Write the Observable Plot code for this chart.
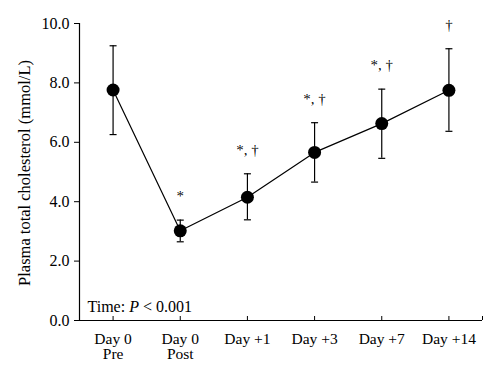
<!DOCTYPE html>
<html><head><meta charset="utf-8">
<script src="https://cdn.jsdelivr.net/npm/d3@7"></script>
<script src="https://cdn.jsdelivr.net/npm/@observablehq/plot@0.6"></script>
<style>body{margin:0;background:#fff} svg text{-webkit-font-smoothing:antialiased}</style>
</head><body><div id="chart"></div>
<script>
const categories = ["Day 0\nPre", "Day 0\nPost", "Day +1", "Day +3", "Day +7", "Day +14"];
const means = [7.76, 3.02, 4.15, 5.66, 6.63, 7.75];
const upper = [9.25, 3.38, 4.94, 6.66, 7.79, 9.15];
const lower = [6.26, 2.65, 3.39, 4.66, 5.46, 6.37];
const signif = ["", "*", "*, \u2020", "*, \u2020", "*, \u2020", "\u2020"];
const yTicks = [0, 2, 4, 6, 8, 10];
const yLabel = "Plasma total cholesterol (mmol/L)";
const note = "Time: P < 0.001";

const data = categories.map((c, i) => ({i, c, mean: means[i], hi: upper[i], lo: lower[i], s: signif[i]}));
const xTicks = [...categories.map((_, i) => i), categories.length - 0.5];

const cap = {draw(ctx, size) { const w = Math.sqrt(size / Math.PI); ctx.moveTo(-w, 0); ctx.lineTo(w, 0); }};

const font = "'Liberation Serif', 'Times New Roman', serif";
const plot = Plot.plot({
  width: 500, height: 376,
  marginLeft: 79, marginRight: 18, marginTop: 23, marginBottom: 56,
  style: {fontFamily: font, fontSize: "16px", color: "#000", background: "#fff"},
  x: {type: "linear", domain: [-0.5, categories.length - 0.5]},
  y: {domain: [0, 10]},
  marks: [
    Plot.axisY({ticks: yTicks, tickFormat: d => d.toFixed(1), tickSize: 5, tickPadding: 5, label: null, fontSize: 16}),
    Plot.text([yLabel], {frameAnchor: "left", textAnchor: "middle", dx: -55, dy: 1, rotate: -90, fontSize: 16.5, fill: "#000"}),
    Plot.axisX({ticks: xTicks, tickSize: 0, tickPadding: 12, tickFormat: d => Number.isInteger(d) ? categories[d] : "", label: null, lineHeight: 1, fontSize: 15.5}),
    Plot.tickX(xTicks, {x: d => d, insetTop: 293, stroke: "#000"}),
    Plot.ruleY([0], {stroke: "#000", strokeWidth: 1.2}),
    Plot.ruleX([-0.5], {stroke: "#000", strokeWidth: 1.2}),
    Plot.ruleX(data, {x: "i", y1: "lo", y2: "hi", stroke: "#000", strokeWidth: 1.2}),
    Plot.dot(data, {x: "i", y: "lo", symbol: cap, r: 3.5, stroke: "#000", strokeWidth: 1.2, fill: "none"}),
    Plot.dot(data, {x: "i", y: "hi", symbol: cap, r: 3.5, stroke: "#000", strokeWidth: 1.2, fill: "none"}),
    Plot.line(data, {x: "i", y: "mean", stroke: "#000", strokeWidth: 1.2}),
    Plot.dot(data, {x: "i", y: "mean", r: 6.5, fill: "#000", stroke: "none"}),
    Plot.text(data, {x: "i", y: "hi", text: "s", dy: -24, fontSize: 15, fill: "#000", fillOpacity: 0.99}),
    Plot.text([note], {frameAnchor: "bottom-left", dx: 8, dy: -9, textAnchor: "start", lineAnchor: "bottom", fontSize: 16, fill: "#000"})
  ]
});
document.getElementById("chart").appendChild(plot);
// italicise the P in the note
d3.select(plot).selectAll("text").filter(function() { return this.textContent === note; }).each(function() {
  const t = d3.select(this); t.text("");
  t.append("tspan").text("Time: ");
  t.append("tspan").attr("font-style", "italic").text("P");
  t.append("tspan").text(" < 0.001");
});
</script></body></html>
